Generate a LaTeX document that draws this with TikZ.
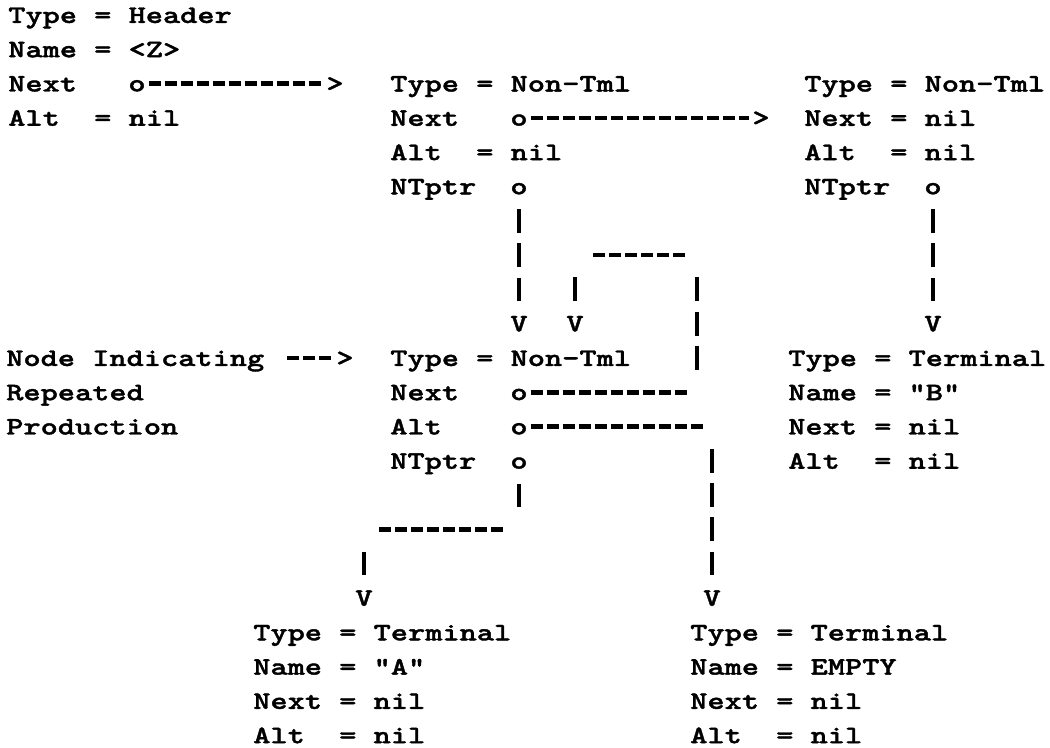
\documentclass[tikz,border=0pt]{standalone}
\usepackage{fontspec}
\usepackage{tikz}
\newfontfamily\typer{lmmonolt10-bold.otf}[FakeStretch=1.3,FakeBold=1.5]
\newcommand{\recfont}{\typer\fontsize{18.9pt}{25.7pt}\selectfont}

\begin{document}
\begin{tikzpicture}[
  x=0.75pt, y=-0.75pt,
  rec/.style={anchor=north west, inner sep=0pt, align=left, font=\recfont},
  ptr/.style={inner sep=0pt, font=\recfont, text height=11.55pt, text depth=0pt},
  hdash/.style={line width=3.4pt, dash pattern=on 9.3pt off 2.7pt},
  vbar/.style={line width=2.8pt, dash pattern=on 18pt off 7.7pt}
]
\useasboundingbox (0,0) rectangle (1050,748);
\node[rec] (hdr) at (8,7.3) {Type = Header\\Name = <Z>\\Next\\Alt\ \ = nil};
\node[rec] (nt1) at (390,75.9) {Type = Non-Tml\\Next\\Alt\ \ = nil\\NTptr};
\node[rec] (nt2) at (804,75.9) {Type = Non-Tml\\Next = nil\\Alt\ \ = nil\\NTptr};
\node[rec] (note) at (6,350.3) {Node Indicating\\Repeated\\Production};
\node[rec] (rep) at (390,350.3) {Type = Non-Tml\\Next\\Alt\\NTptr};
\node[rec] (tB) at (788,350.3) {Type = Terminal\\Name = "B"\\Next = nil\\Alt\ \ = nil};
\node[rec] (tA) at (253,624.7) {Type = Terminal\\Name = "A"\\Next = nil\\Alt\ \ = nil};
\node[rec] (tE) at (690,624.7) {Type = Terminal\\Name = EMPTY\\Next = nil\\Alt\ \ = nil};

\node[ptr] (hdrnext) at (137,83.6) {o};
\node[ptr] (nt1next) at (519,117.9) {o};
\node[ptr] (nt1nt) at (519,186.5) {o};
\node[ptr] (nt2nt) at (933,186.5) {o};
\node[ptr] (repnext) at (519,392.3) {o};
\node[ptr] (repalt) at (519,426.6) {o};
\node[ptr] (repnt) at (519,460.9) {o};

\node[ptr] (gt1) at (335,83.6) {>};
\node[ptr] (gt2) at (761,117.9) {>};
\node[ptr] (gt3) at (345,358) {>};
\node[ptr] (nt1v) at (519,323.7) {V};
\node[ptr] (repv) at (575,323.7) {V};
\node[ptr] (nt2v) at (933,323.7) {V};
\node[ptr] (ntpv) at (364,598.1) {V};
\node[ptr] (altv) at (712,598.1) {V};

\coordinate (notearr) at (287,358);
\coordinate (loopa) at (687,392.3);
\coordinate (loopb) at (697,370);
\coordinate (loopc) at (697,277.4);
\coordinate (loopd) at (685,255.1);
\coordinate (loope) at (591.6,255.1);
\coordinate (loopf) at (575,277.4);
\coordinate (alta) at (705,426.6);
\coordinate (altb) at (712,448.9);
\coordinate (ntpa) at (519,507.2);
\coordinate (ntpb) at (503,529.5);
\coordinate (ntpc) at (378,529.5);
\coordinate (ntpd) at (364,551.8);

\draw[hdash, shorten <=2pt, shorten >=2pt] (hdrnext) -- (gt1);
\draw[hdash, shorten <=2pt, shorten >=2pt] (nt1next) -- (gt2);
\draw[hdash, shorten >=2pt] (notearr) -- (gt3);
\draw[vbar, shorten <=11pt, shorten >=11pt] (nt1nt) -- (nt1v);
\draw[vbar, shorten <=11pt, shorten >=11pt] (nt2nt) -- (nt2v);
\draw[hdash, shorten <=2pt] (repnext) -- (loopa);
\draw[vbar] (loopb) -- (loopc);
\draw[hdash] (loopd) -- (loope);
\draw[vbar, shorten >=11pt] (loopf) -- (repv);
\draw[hdash, shorten <=2pt] (repalt) -- (alta);
\draw[vbar, shorten >=11pt] (altb) -- (altv);
\draw[vbar, shorten <=11pt] (repnt) -- (ntpa);
\draw[hdash] (ntpb) -- (ntpc);
\draw[vbar, shorten >=11pt] (ntpd) -- (ntpv);
\end{tikzpicture}
\end{document}
